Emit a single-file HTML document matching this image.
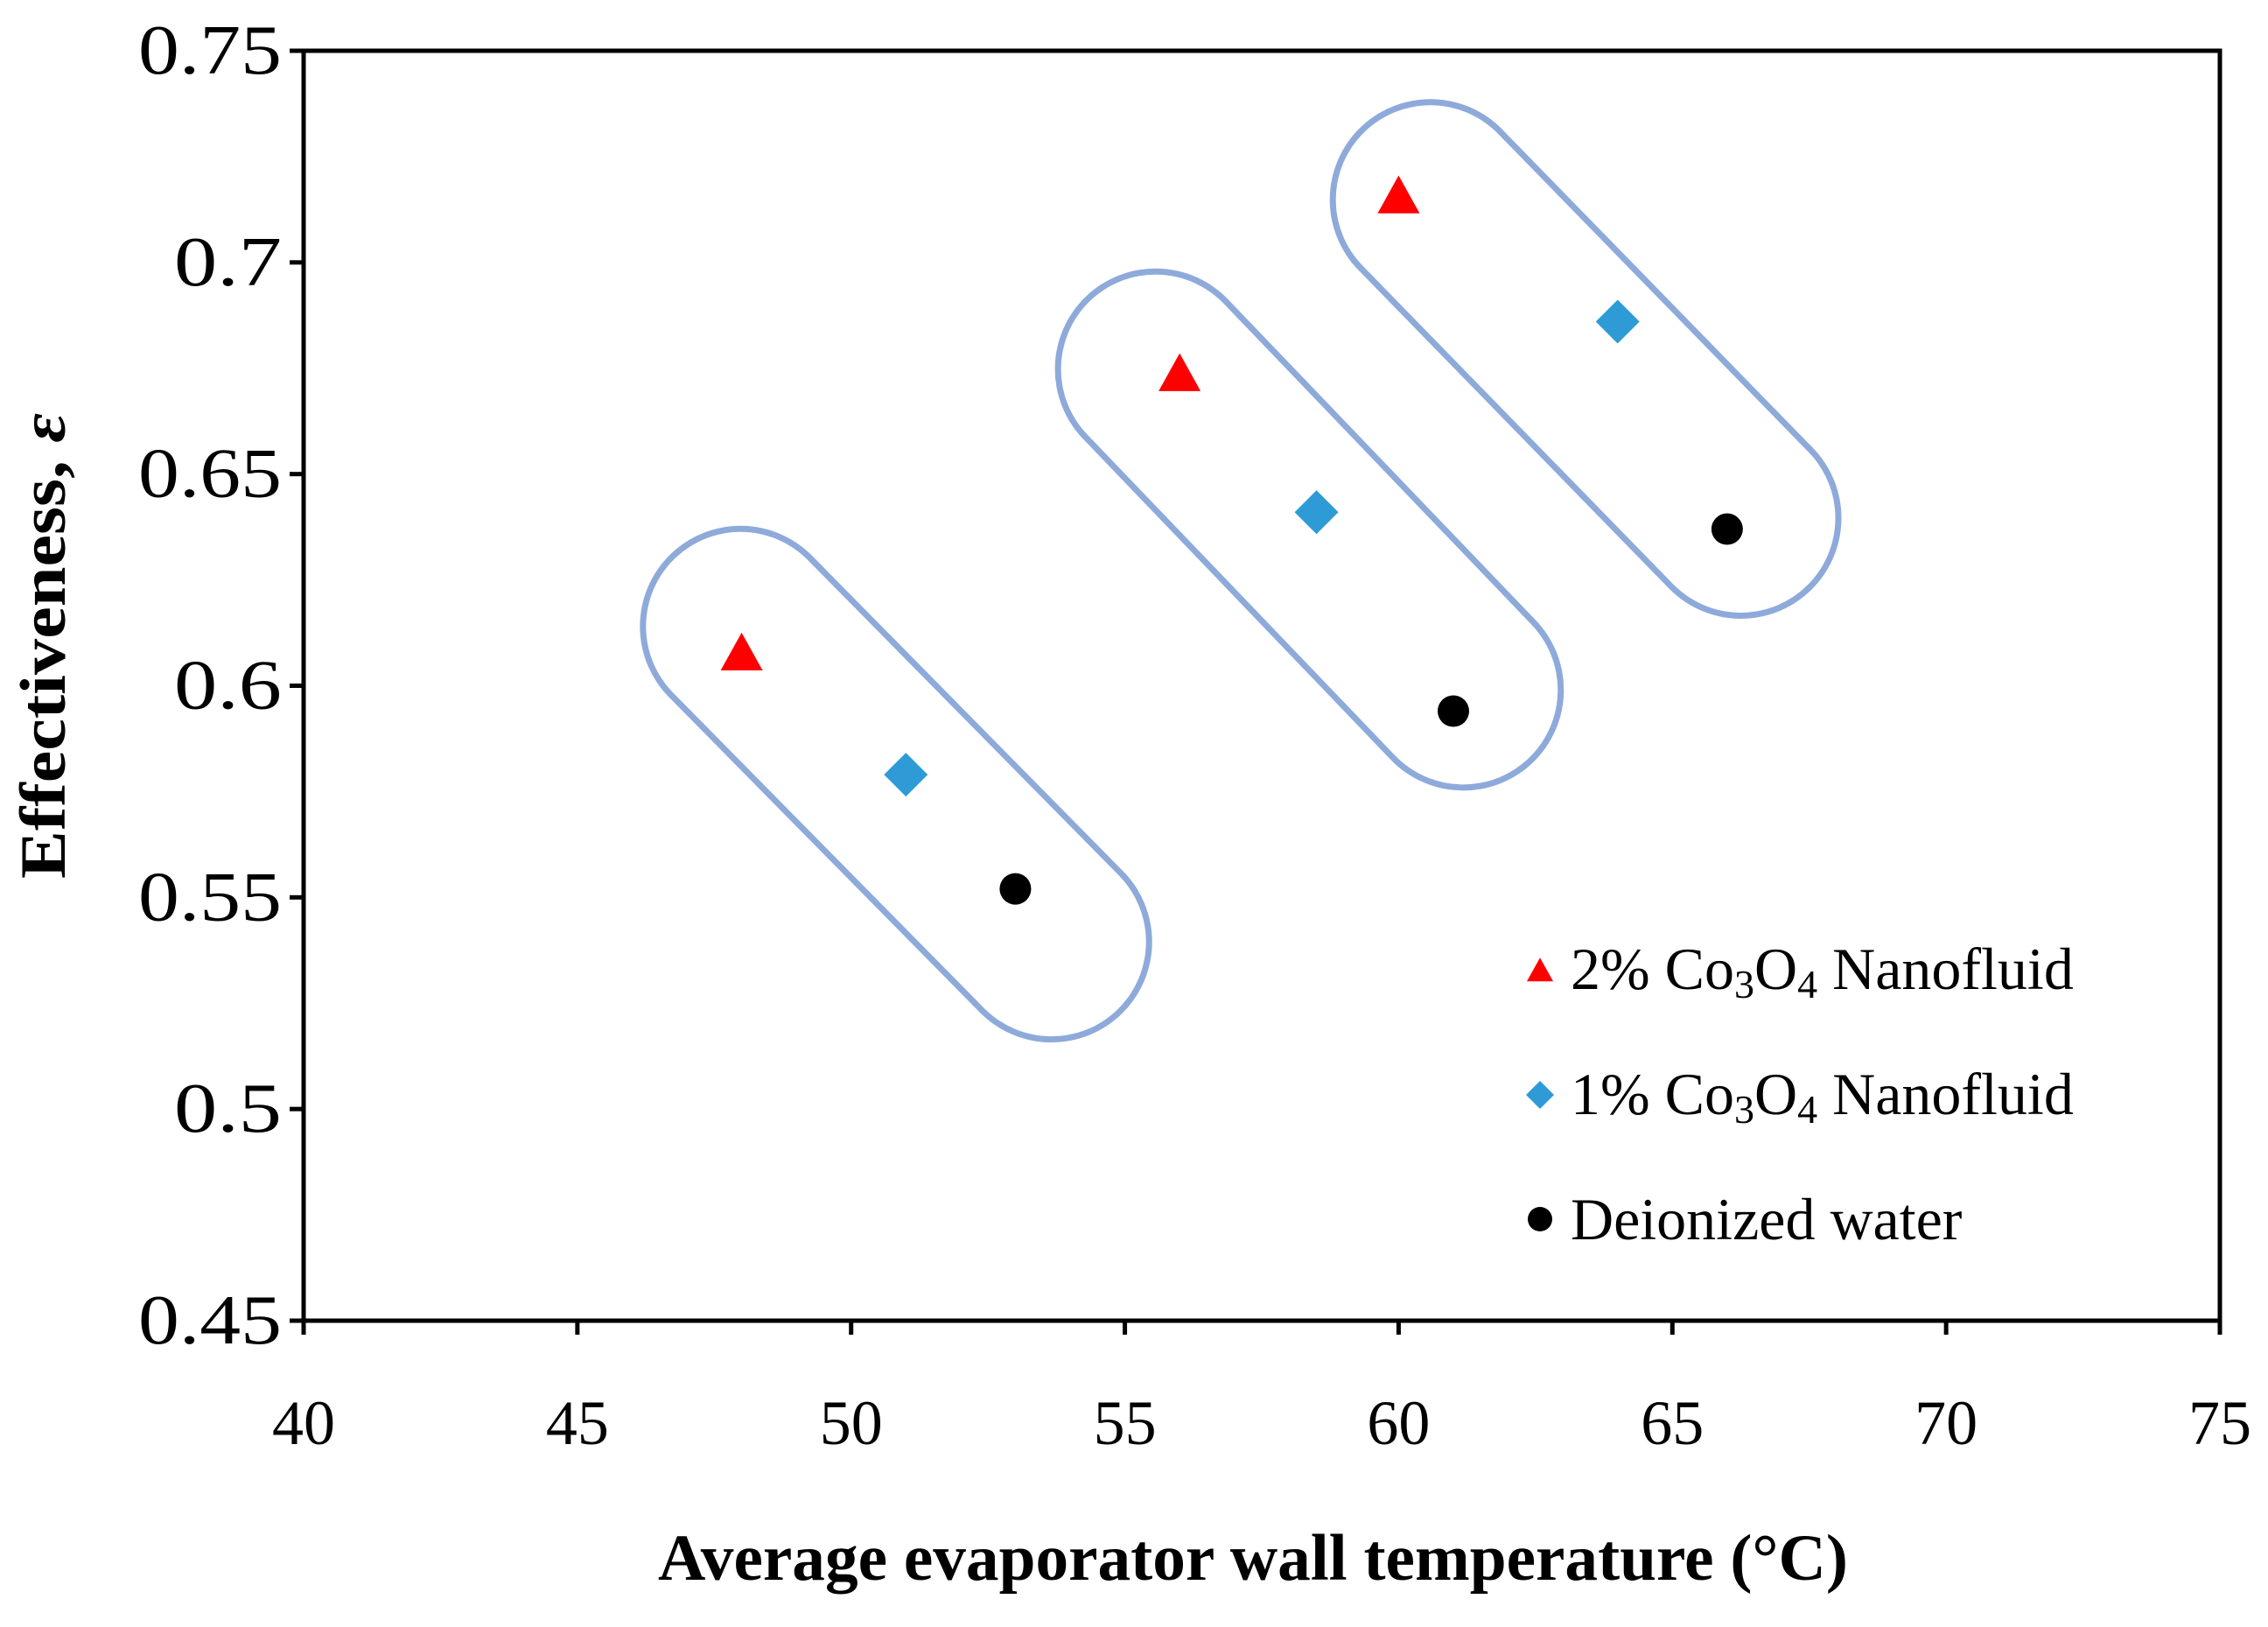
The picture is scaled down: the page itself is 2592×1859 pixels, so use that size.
<!DOCTYPE html>
<html><head><meta charset="utf-8"><style>
html,body{margin:0;padding:0;background:#fff}
svg{display:block}
text{font-family:"Liberation Serif",serif;fill:#000}
</style></head><body>
<svg id="chart" width="2592" height="1859" viewBox="0 0 2592 1859" xmlns="http://www.w3.org/2000/svg">
<g id="layer"></g>
</svg>
<script>
const xTicks=[40,45,50,55,60,65,70,75];
const yTicks=[0.45,0.5,0.55,0.6,0.65,0.7,0.75];
const yTickLabels=["0.45","0.5","0.55","0.6","0.65","0.7","0.75"];
const tri2X=[48,56,60];
const tri2Y=[0.607,0.673,0.715];
const dia1X=[51,58.5,64];
const dia1Y=[0.579,0.641,0.686];
const dwX=[53,61,66];
const dwY=[0.552,0.594,0.637];
const capStartX=[47.98,55.56,60.58];
const capStartY=[0.614,0.6748,0.7148];
const capEndX=[53.66,61.18,66.25];
const capEndY=[0.5395,0.599,0.6396];

const L=347,R=2537,T=58,B=1509;
const sx=v=>L+(v-40)/(75-40)*(R-L);
const sy=v=>B-(v-0.45)/(0.75-0.45)*(B-T);
const NS="http://www.w3.org/2000/svg";
const g=document.getElementById('layer');
function mk(tag,attrs,parent){const e=document.createElementNS(NS,tag);for(const k in attrs)e.setAttribute(k,attrs[k]);(parent||g).appendChild(e);return e;}

for(let i=0;i<capStartX.length;i++){
  const x1=sx(capStartX[i]),y1=sy(capStartY[i]),x2=sx(capEndX[i]),y2=sy(capEndY[i]);
  const e=mk('line',{x1:x1,y1:y1,x2:x2,y2:y2,stroke:'#8eaadb','stroke-width':230,'stroke-linecap':'round'});
  
  
  const e2=mk('line',{x1:x1,y1:y1,x2:x2,y2:y2,stroke:'#fff','stroke-width':216,'stroke-linecap':'round'});
  
  
}

const fr=mk('rect',{x:L,y:T,width:R-L,height:B-T,fill:'none',stroke:'#000','stroke-width':5});



xTicks.forEach(v=>{
  const t=mk('line',{x1:sx(v),x2:sx(v),y1:B,y2:B+16,stroke:'#000','stroke-width':5});
  
  
  const l=mk('text',{x:sx(v),y:1650,'text-anchor':'middle','font-size':72});
  l.textContent=v;
  
  
});
yTicks.forEach((v,i)=>{
  const t=mk('line',{x1:L-16,x2:L,y1:sy(v),y2:sy(v),stroke:'#000','stroke-width':5});
  
  
  const s=yTickLabels[i];
  const l=mk('text',{x:322,y:sy(v)+26,'text-anchor':'end','font-size':80,textLength:s.length*41,lengthAdjust:'spacingAndGlyphs'});
  l.textContent=s;
  
  
});

function tri(cx,cy,s,name){const h=s*0.9;const e=mk('polygon',{points:`${cx},${cy-h*0.62} ${cx-s/2},${cy+h*0.38} ${cx+s/2},${cy+h*0.38}`,fill:'#ff0000'});}
function dia(cx,cy,s,name){const e=mk('polygon',{points:`${cx},${cy-s/2} ${cx+s/2},${cy} ${cx},${cy+s/2} ${cx-s/2},${cy}`,fill:'#2e9bd6'});}
function dot(cx,cy,r,name){const e=mk('circle',{cx:cx,cy:cy,r:r,fill:'#000'});}

tri2X.forEach((x,i)=>tri(sx(x),sy(tri2Y[i]),48,'point-2pct-nanofluid'));
dia1X.forEach((x,i)=>dia(sx(x),sy(dia1Y[i]),50,'point-1pct-nanofluid'));
dwX.forEach((x,i)=>dot(sx(x),sy(dwY[i]),18,'point-deionized-water'));

tri(1760,1111,30,'legend-marker-2pct');
dia(1760,1251,32,'legend-marker-1pct');
dot(1760,1393,14,'legend-marker-water');
</script>
<svg style="position:absolute;left:0;top:0" width="2592" height="1859" viewBox="0 0 2592 1859" xmlns="http://www.w3.org/2000/svg">
<g font-size="68">
<text x="1795" y="1130">2% Co<tspan font-size="46" dy="10">3</tspan><tspan dy="-10">O</tspan><tspan font-size="46" dy="10">4</tspan><tspan dy="-10"> Nanofluid</tspan></text>
<text x="1795" y="1273">1% Co<tspan font-size="46" dy="10">3</tspan><tspan dy="-10">O</tspan><tspan font-size="46" dy="10">4</tspan><tspan dy="-10"> Nanofluid</tspan></text>
<text x="1795" y="1416">Deionized water</text>
</g>
<text x="752" y="1805" font-size="75" font-weight="bold" textLength="1360" lengthAdjust="spacingAndGlyphs">Average evaporator wall temperature (°C)</text>
<text transform="translate(74,1004) rotate(-90)" font-size="74" font-weight="bold" textLength="532" lengthAdjust="spacingAndGlyphs">Effectiveness, <tspan font-style="italic">ε</tspan></text>
</svg>
</body></html>
